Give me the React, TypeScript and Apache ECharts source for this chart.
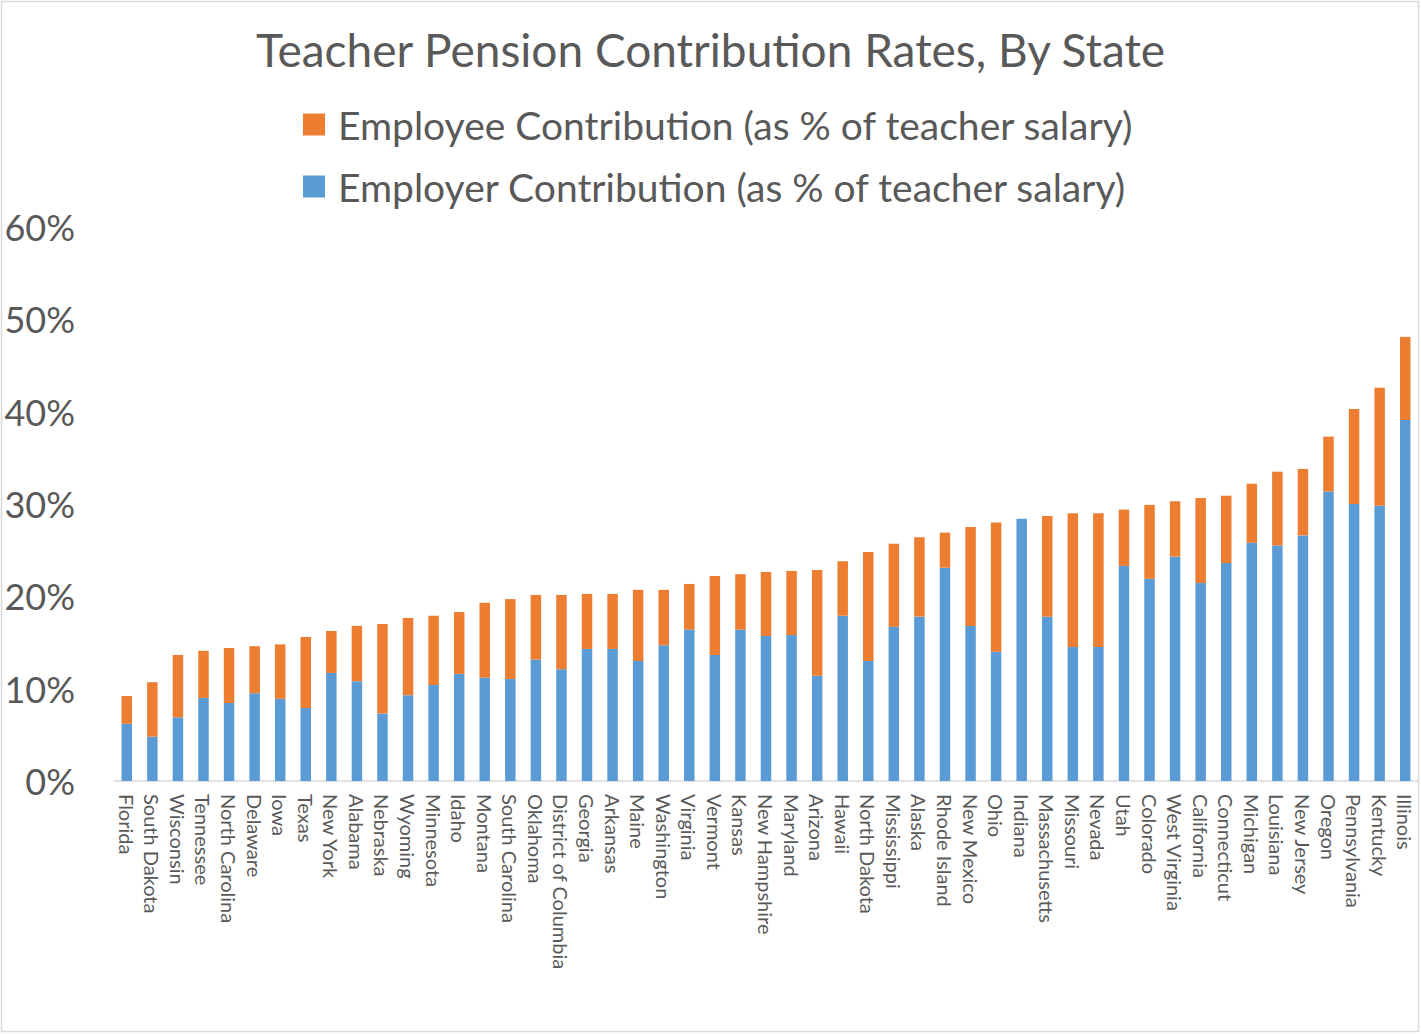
import React, { useEffect, useRef } from "react";
import * as echarts from "echarts";

const states = [
  "Florida", "South Dakota", "Wisconsin", "Tennessee", "North Carolina", "Delaware", "Iowa", "Texas",
  "New York", "Alabama", "Nebraska", "Wyoming", "Minnesota", "Idaho", "Montana", "South Carolina",
  "Oklahoma", "District of Columbia", "Georgia", "Arkansas", "Maine", "Washington", "Virginia", "Vermont",
  "Kansas", "New Hampshire", "Maryland", "Arizona", "Hawaii", "North Dakota", "Mississippi", "Alaska",
  "Rhode Island", "New Mexico", "Ohio", "Indiana", "Massachusetts", "Missouri", "Nevada", "Utah",
  "Colorado", "West Virginia", "California", "Connecticut", "Michigan", "Louisiana", "New Jersey", "Oregon",
  "Pennsylvania", "Kentucky", "Illinois",
];

const employerRates = [
  6.2, 4.8, 6.9, 9.0, 8.45, 9.5, 8.9, 7.9,
  11.7, 10.8, 7.3, 9.3, 10.4, 11.6, 11.2, 11.05,
  13.15, 12.1, 14.3, 14.3, 13.0, 14.7, 16.4, 13.65,
  16.4, 15.7, 15.8, 11.4, 17.9, 13.0, 16.7, 17.8,
  23.1, 16.8, 14.0, 28.4, 17.8, 14.5, 14.5, 23.3,
  21.9, 24.3, 21.45, 23.6, 25.8, 25.5, 26.6, 31.35,
  30.0, 29.8, 39.1,
];

const employeeRates = [
  3.0, 5.9, 6.75, 5.1, 5.95, 5.1, 5.9, 7.7,
  4.55, 6.0, 9.7, 8.36, 7.5, 6.7, 8.1, 8.65,
  7.0, 8.05, 5.96, 5.96, 7.7, 6.0, 4.94, 8.55,
  6.0, 6.94, 6.95, 11.46, 5.9, 11.8, 9.0, 8.6,
  3.8, 10.7, 14.0, 0, 10.9, 14.5, 14.5, 6.1,
  8.0, 6.0, 9.2, 7.3, 6.4, 8.0, 7.2, 5.95,
  10.3, 12.8, 9.0,
];

const yTicks = { min: 0, max: 60, interval: 10 };

const titleText = "Teacher Pension Contribution Rates, By State";
const employeeName = "Employee Contribution (as % of teacher salary)";
const employerName = "Employer Contribution (as % of teacher salary)";

const FONT = "Lato, 'Open Sans', sans-serif";
const GRAY = "#595959";

export default function App() {
  const ref = useRef<HTMLDivElement>(null);

  useEffect(() => {
    if (!ref.current) return;
    const chart = echarts.init(ref.current, undefined, { renderer: "svg" });
    chart.setOption({
      animation: false,
      backgroundColor: "#ffffff",
      textStyle: { fontFamily: FONT },
      title: {
        text: titleText,
        left: "center",
        top: 21,
        textStyle: { fontFamily: FONT, fontSize: 46, fontWeight: "normal", color: GRAY },
      },
      legend: {
        orient: "vertical",
        left: 298,
        top: 100,
        itemWidth: 22,
        itemHeight: 22,
        itemGap: 23,
        icon: "rect",
        data: [employeeName, employerName],
        textStyle: { fontFamily: FONT, fontSize: 39, lineHeight: 39, color: GRAY, padding: [0, 0, 0, 8] },
      },
      grid: { left: 114, right: 3, top: 227, bottom: 253, containLabel: false },
      xAxis: {
        type: "category",
        data: states,
        axisTick: { show: false },
        axisLine: { show: true, lineStyle: { color: "#d9d9d9", width: 1.5 } },
        axisLabel: {
          interval: 0,
          rotate: -90,
          margin: 13,
          fontSize: 20,
          color: GRAY,
          fontFamily: FONT,
        },
      },
      yAxis: {
        type: "value",
        min: yTicks.min,
        max: yTicks.max,
        interval: yTicks.interval,
        splitLine: { show: false },
        axisLine: { show: false },
        axisTick: { show: false },
        axisLabel: {
          formatter: "{value}%",
          fontSize: 36,
          color: GRAY,
          margin: 39,
          fontFamily: FONT,
        },
      },
      series: [
        {
          name: employerName,
          type: "bar",
          stack: "total",
          barWidth: "41%",
          itemStyle: { color: "#5B9BD5" },
          data: employerRates,
        },
        {
          name: employeeName,
          type: "bar",
          stack: "total",
          barWidth: "41%",
          itemStyle: { color: "#ED7D31" },
          data: employeeRates,
        },
      ],
      graphic: [
        {
          type: "rect",
          shape: { x: 1.5, y: 1.5, width: 1417, height: 1030 },
          style: { fill: "none", stroke: "#d9d9d9", lineWidth: 1.5 },
          silent: true,
        },
      ],
    });
    return () => chart.dispose();
  }, []);

  return (
    <div
      ref={ref}
      style={{ position: "absolute", left: 0, top: 0, width: 1421, height: 1034 }}
    />
  );
}
